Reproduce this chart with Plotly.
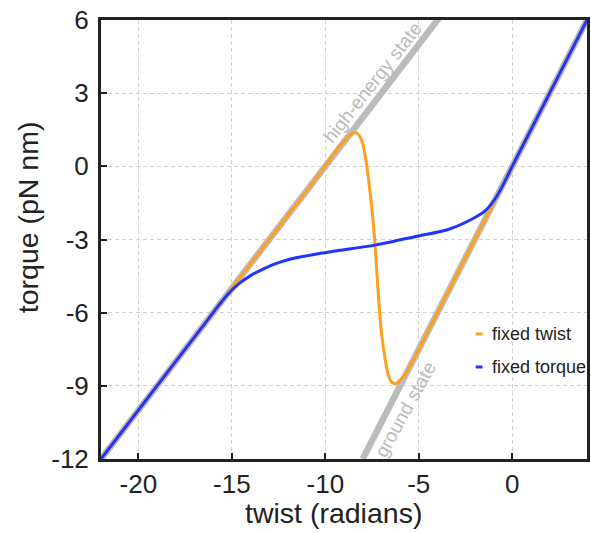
import plotly.graph_objects as go

# ---- data ----
HIGH_X = [-22, 4]
HIGH_Y = [-12, 14]
GROUND_X = [-8, 4]
GROUND_Y = [-12, 6]

TWIST_X = [-22, -18, -15, -12, -10.4, -9.3, -8.8, -8.55, -8.37, -8.2, -8.05, -7.96, -7.78,
           -7.6, -7.45, -7.34, -7.16, -7.0, -6.8, -6.63, -6.45, -6.25, -6.05, -5.75, -5.2,
           -4, -2, 0, 2, 4]
TWIST_Y = [-12, -8, -5, -2, -0.4, 0.75, 1.2, 1.35, 1.38, 1.28, 1.05, 0.82, 0.0,
           -1.1, -2.2, -3.2, -5.3, -6.8, -7.9, -8.55, -8.85, -8.92, -8.8, -8.55, -7.8,
           -6, -3, 0, 3, 6]

TORQUE_X = [-22, -18, -16.2, -15.6, -15.1, -14.6, -14.0, -13.3, -12.5, -11.5, -10.4, -9.3,
            -7.33, -5.03, -3.43, -2.19, -1.47, -0.94, -0.5, 0, 2, 4]
TORQUE_Y = [-12, -8, -6.2, -5.6, -5.15, -4.8, -4.48, -4.2, -3.95, -3.74, -3.58, -3.45,
            -3.23, -2.86, -2.59, -2.18, -1.84, -1.36, -0.78, 0, 3, 6]

X_TICKS = [-20, -15, -10, -5, 0]
X_TICKTEXT = ["-20", "-15", "-10", "-5", "0"]
Y_TICKS = [-12, -9, -6, -3, 0, 3, 6]
Y_TICKTEXT = ["-12", "-9", "-6", "-3", "0", "3", "6"]

SERIES_NAMES = ["fixed twist", "fixed torque"]

ORANGE = "#FF9F1C"
BLUE = "#1F35FF"
GRAY = "#BBBBBB"
DARK = "#222222"
FONT = "Liberation Sans, Arial, sans-serif"

fig = go.Figure()
fig.add_trace(go.Scatter(x=HIGH_X, y=HIGH_Y, mode="lines",
                         line=dict(color=GRAY, width=6.5), hoverinfo="skip", showlegend=False))
fig.add_trace(go.Scatter(x=GROUND_X, y=GROUND_Y, mode="lines",
                         line=dict(color=GRAY, width=6.5), hoverinfo="skip", showlegend=False))
fig.add_trace(go.Scatter(x=TWIST_X, y=TWIST_Y, mode="lines", name=SERIES_NAMES[0],
                         line=dict(color=ORANGE, width=3, shape="spline", smoothing=0.8),
                         showlegend=False))
fig.add_trace(go.Scatter(x=TORQUE_X, y=TORQUE_Y, mode="lines", name=SERIES_NAMES[1],
                         line=dict(color=BLUE, width=3, shape="spline", smoothing=0.8),
                         showlegend=False))

axis_common = dict(showline=True, mirror=True, linecolor=DARK, linewidth=3,
                   ticks="inside", ticklen=6, tickwidth=2, tickcolor=DARK,
                   showgrid=True, gridcolor="#D0D0D0", gridwidth=1, griddash="4px,3px",
                   zeroline=False, tickfont=dict(family=FONT, size=26, color=DARK))

fig.update_xaxes(range=[-22, 4], tickvals=X_TICKS, ticktext=X_TICKTEXT, **axis_common)
fig.update_yaxes(range=[-12, 6], tickvals=Y_TICKS, ticktext=Y_TICKTEXT,
                 ticklabelstandoff=4, **axis_common)

annotations = [
    dict(text="twist (radians)", xref="paper", yref="paper", x=0.4775, y=-0.123,
         xanchor="center", yanchor="middle", showarrow=False,
         font=dict(family=FONT, size=28.5, color=DARK)),
    dict(text="torque (pN nm)", xref="paper", yref="paper", x=-0.150, y=0.551,
         xanchor="center", yanchor="middle", showarrow=False, textangle=-90,
         font=dict(family=FONT, size=28.5, color=DARK)),
    dict(text="high-energy state", x=-7.48, y=3.45, xref="x", yref="y",
         showarrow=False, textangle=-52, font=dict(family=FONT, size=19, color=GRAY)),
    dict(text="ground state", x=-5.74, y=-9.95, xref="x", yref="y",
         showarrow=False, textangle=-61, font=dict(family=FONT, size=19, color=GRAY)),
]
legend_y = [0.2847, 0.2096]
shapes = []
for name, col, ly in zip(SERIES_NAMES, [ORANGE, BLUE], legend_y):
    annotations.append(dict(text=name, xref="paper", yref="paper", x=0.801, y=ly,
                            xanchor="left", yanchor="middle", showarrow=False,
                            font=dict(family=FONT, size=18, color=DARK)))
    shapes.append(dict(type="line", xref="paper", yref="paper", x0=0.771, x1=0.785,
                       y0=ly, y1=ly, line=dict(color=col, width=3)))

fig.update_layout(width=591, height=533, margin=dict(l=101, r=1, t=20, b=74),
                  plot_bgcolor="white", paper_bgcolor="white",
                  annotations=annotations, shapes=shapes, showlegend=False)

fig.write_html("out.html")
